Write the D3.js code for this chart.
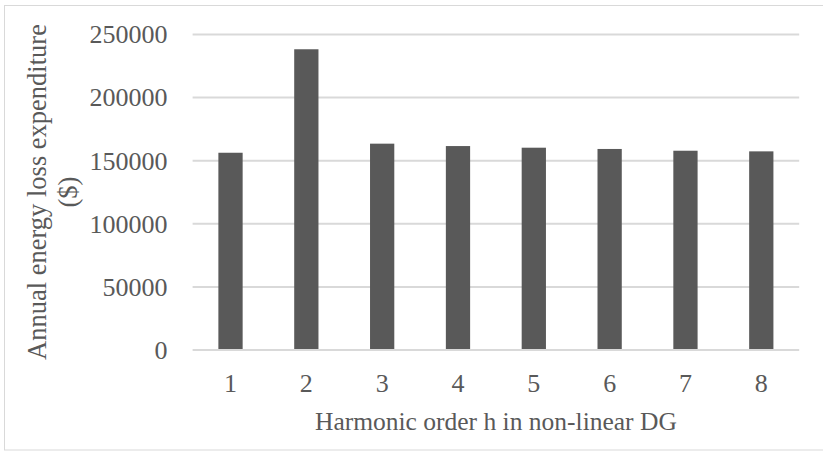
<!DOCTYPE html>
<html>
<head>
<meta charset="utf-8">
<script src="https://cdn.jsdelivr.net/npm/d3@7"></script>
<style>
  html, body { margin: 0; padding: 0; background: #fff; }
  svg { display: block; }
  text { font-family: "Liberation Serif", "Times New Roman", serif; fill: #595959; }
</style>
</head>
<body>
<svg id="chart" width="823" height="451"></svg>
<script>
// Harmonic order of the non-linear DG and the annual energy loss cost ($)
const categories = ["1", "2", "3", "4", "5", "6", "7", "8"];
const values = [156300, 238300, 163500, 161600, 160300, 159300, 157900, 157400];
const yTicks = [0, 50000, 100000, 150000, 200000, 250000];
const yTitleLines = ["Annual energy loss expenditure", "($)"];
const xTitle = "Harmonic order h in non-linear DG";

const svg = d3.select("#chart");
const W = 823, H = 451;
const plot = { left: 192.6, right: 799.2, top: 34.5, bottom: 350 };

// chart frame
svg.append("rect")
  .attr("x", 4.5).attr("y", 5.5)
  .attr("width", W + 10).attr("height", 444.5)
  .attr("fill", "#fff").attr("stroke", "#d9d9d9").attr("stroke-width", 1);

const x = d3.scaleBand()
  .domain(categories)
  .range([plot.left, plot.right])
  .paddingInner(0.68)
  .paddingOuter(0.34);

const y = d3.scaleLinear()
  .domain([0, 250000])
  .range([plot.bottom, plot.top]);

// horizontal gridlines
svg.append("g")
  .selectAll("line")
  .data(yTicks.filter(d => d > 0))
  .join("line")
  .attr("x1", plot.left).attr("x2", plot.right)
  .attr("y1", d => y(d)).attr("y2", d => y(d))
  .attr("stroke", "#d9d9d9").attr("stroke-width", 2);

// bars
svg.append("g")
  .selectAll("rect")
  .data(values)
  .join("rect")
  .attr("x", (d, i) => x(categories[i]))
  .attr("width", x.bandwidth())
  .attr("y", d => y(d))
  .attr("height", d => y(0) - y(d))
  .attr("fill", "#595959");

// category axis line
svg.append("line")
  .attr("x1", plot.left).attr("x2", plot.right)
  .attr("y1", y(0)).attr("y2", y(0))
  .attr("stroke", "#d9d9d9").attr("stroke-width", 2);

// y axis labels
const yAxis = d3.axisLeft(y).tickValues(yTicks).tickSize(0).tickPadding(25)
  .tickFormat(d3.format("d"));
const gy = svg.append("g").attr("transform", `translate(${plot.left},0)`).call(yAxis);
gy.select(".domain").remove();
gy.selectAll("text")
  .attr("font-size", 26)
  .attr("font-family", "Liberation Serif, serif")
  .attr("fill", "#595959");

// x axis labels
const xAxis = d3.axisBottom(x).tickSize(0).tickPadding(24);
const gx = svg.append("g").attr("transform", `translate(0,${plot.bottom})`).call(xAxis);
gx.select(".domain").remove();
gx.selectAll("text")
  .attr("font-size", 26)
  .attr("font-family", "Liberation Serif, serif")
  .attr("fill", "#595959");

// axis titles
svg.append("text")
  .attr("x", (plot.left + plot.right) / 2).attr("y", 430)
  .attr("text-anchor", "middle")
  .attr("font-size", 25.5)
  .text(xTitle);

const yt = svg.append("text")
  .attr("transform", "translate(46,192) rotate(-90)")
  .attr("text-anchor", "middle")
  .attr("font-size", 26.5);
yt.selectAll("tspan")
  .data(yTitleLines)
  .join("tspan")
  .attr("x", 0)
  .attr("dy", (d, i) => i === 0 ? 0 : 31)
  .text(d => d);
</script>
</body>
</html>
